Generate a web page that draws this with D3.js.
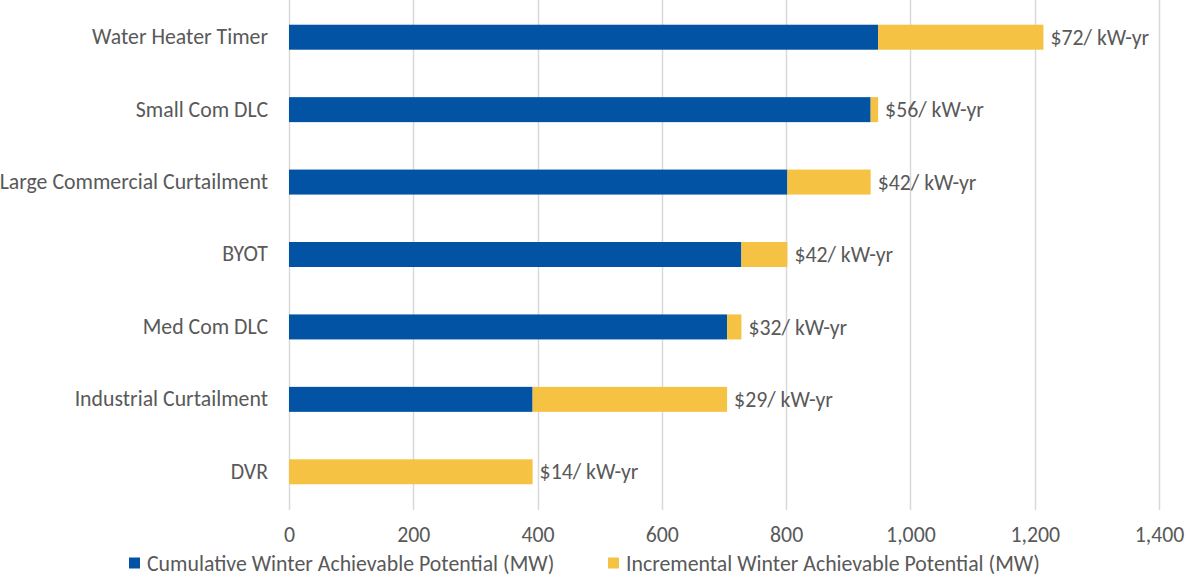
<!DOCTYPE html>
<html>
<head>
<meta charset="utf-8">
<script src="https://cdn.jsdelivr.net/npm/d3@7"></script>
<style>
  html, body { margin: 0; padding: 0; background: #fff; }
  svg { display: block; font-family: Carlito, "Open Sans", sans-serif; }
</style>
</head>
<body>
<svg id="chart" width="1186" height="578"></svg>
<script>
// Demand-response programs, top to bottom
const programs = [
  "Water Heater Timer",
  "Small Com DLC",
  "Large Commercial Curtailment",
  "BYOT",
  "Med Com DLC",
  "Industrial Curtailment",
  "DVR"
];
// Cumulative potential from cheaper programs (MW)
const cumulative = [948, 936, 802, 728, 705, 392, 0];
// Potential added by this program (MW)
const incremental = [266, 12, 134, 74, 23, 313, 392];
// Levelized cost labels
const costLabels = [
  "$72/ kW-yr", "$56/ kW-yr", "$42/ kW-yr", "$42/ kW-yr",
  "$32/ kW-yr", "$29/ kW-yr", "$14/ kW-yr"
];
const xTicks = [0, 200, 400, 600, 800, 1000, 1200, 1400];
const seriesNames = [
  "Cumulative Winter Achievable Potential (MW)",
  "Incremental Winter Achievable Potential (MW)"
];
const colors = ["#0253a4", "#f5c243"];
const textColor = "#595959";
const fontSize = 21.8;

const svg = d3.select("#chart");

const x = d3.scaleLinear().domain([0, 1400]).range([289, 1159]);
const y = d3.scaleBand().domain(programs).range([1, 508])
  .paddingInner(0.655).paddingOuter(0.3275);

// Vertical gridlines
svg.append("g").selectAll("line").data(xTicks).join("line")
  .attr("x1", d => Math.round(x(d)) + 0.5)
  .attr("x2", d => Math.round(x(d)) + 0.5)
  .attr("y1", 0).attr("y2", 510)
  .attr("stroke", "#d9d9d9").attr("stroke-width", 1.5);

// X axis labels
const xAxis = d3.axisBottom(x).tickValues(xTicks)
  .tickFormat(d3.format(",")).tickSize(0).tickPadding(0);
const gx = svg.append("g").attr("transform", "translate(0,527)").call(xAxis)
  .attr("font-family", null).attr("font-size", null);
gx.select(".domain").remove();
gx.selectAll("text").attr("fill", textColor).attr("font-size", fontSize);

// Category labels
const yAxis = d3.axisLeft(y).tickSize(0).tickPadding(0);
const gy = svg.append("g").attr("transform", "translate(268,0)").call(yAxis)
  .attr("font-family", null).attr("font-size", null);
gy.select(".domain").remove();
gy.selectAll("text").attr("fill", textColor).attr("font-size", fontSize);

// Stacked bars
const rows = programs.map((p, i) => ({
  program: p, cum: cumulative[i], inc: incremental[i], label: costLabels[i]
}));

const bars = svg.append("g");
bars.selectAll("rect.cum").data(rows).join("rect")
  .attr("class", "cum")
  .attr("x", d => x(0))
  .attr("y", d => y(d.program))
  .attr("width", d => x(d.cum) - x(0))
  .attr("height", y.bandwidth())
  .attr("fill", colors[0]);
bars.selectAll("rect.inc").data(rows).join("rect")
  .attr("class", "inc")
  .attr("x", d => x(d.cum))
  .attr("y", d => y(d.program))
  .attr("width", d => x(d.cum + d.inc) - x(d.cum))
  .attr("height", y.bandwidth())
  .attr("fill", colors[1]);

// Cost labels at the end of each bar
svg.append("g").selectAll("text").data(rows).join("text")
  .attr("x", d => x(d.cum + d.inc) + 7)
  .attr("y", d => y(d.program) + y.bandwidth() / 2)
  .attr("dy", "0.35em")
  .attr("fill", textColor).attr("font-size", fontSize)
  .text(d => d.label);

// Legend
const legendX = [129, 608];
const lg = svg.append("g").selectAll("g").data(seriesNames).join("g")
  .attr("transform", (d, i) => `translate(${legendX[i]},563)`);
lg.append("rect").attr("x", 0).attr("y", -5.5).attr("width", 11).attr("height", 11)
  .attr("fill", (d, i) => colors[i]);
lg.append("text").attr("x", 18).attr("dy", "0.35em")
  .attr("fill", textColor).attr("font-size", fontSize)
  .text(d => d);
</script>
</body>
</html>
